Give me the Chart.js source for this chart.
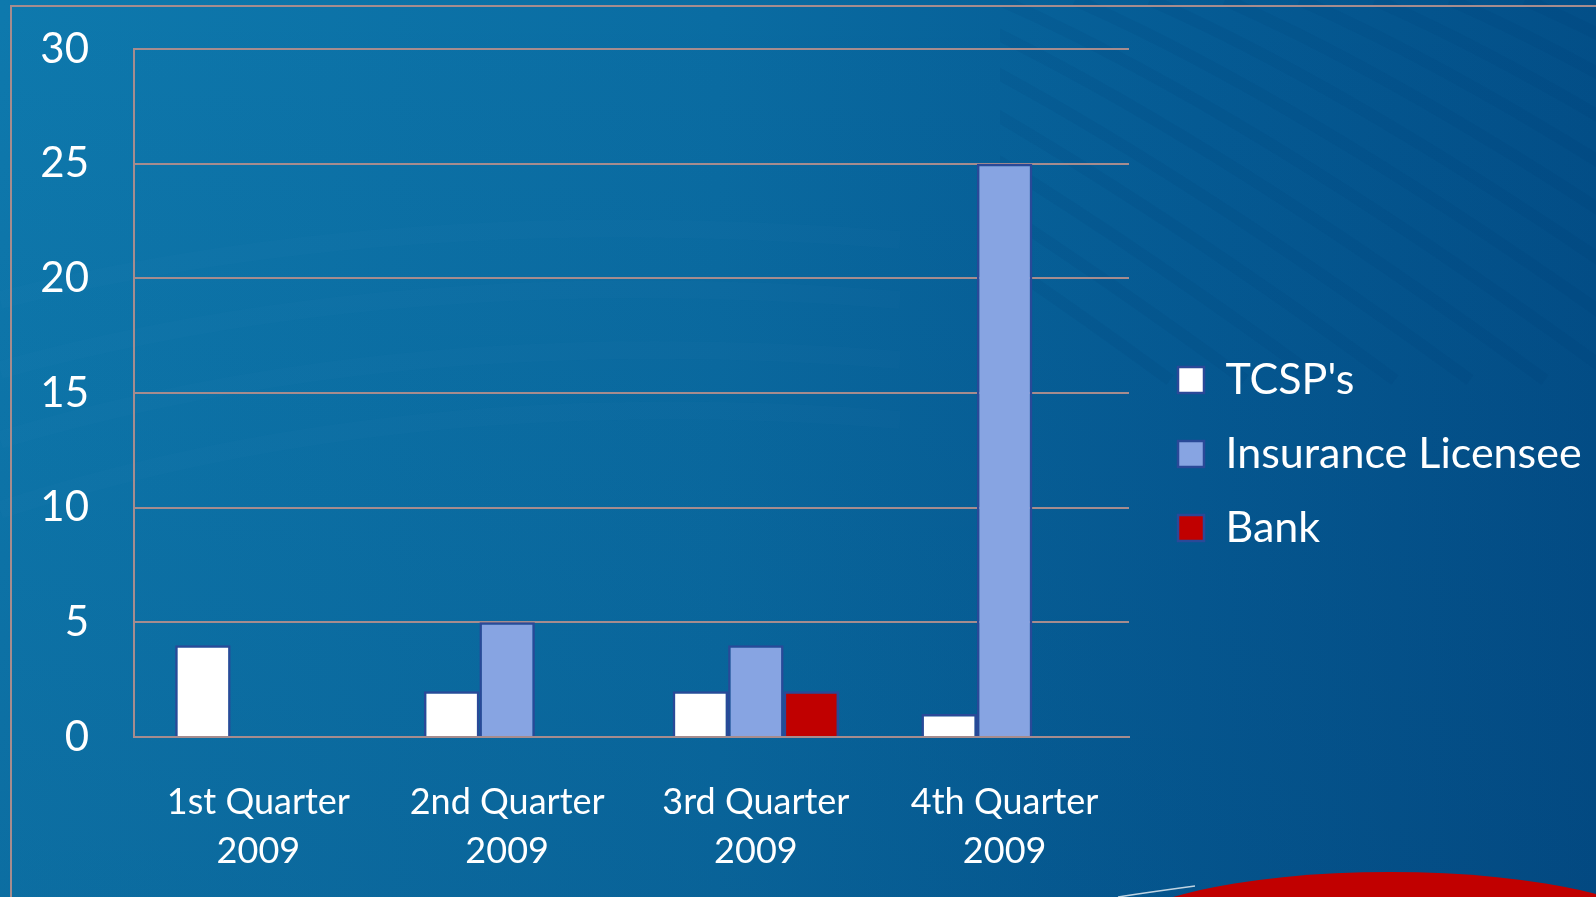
<!DOCTYPE html>
<html>
<head>
<meta charset="utf-8">
<script src="https://cdn.jsdelivr.net/npm/chart.js@4.4.1/dist/chart.umd.min.js"></script>
<style>
  html, body { margin: 0; padding: 0; overflow: hidden; background: #0a6aa0; }
  #wrap { width: 1596px; height: 897px; }
</style>
</head>
<body>
<div id="wrap"><canvas id="myChart" width="1596" height="897"></canvas></div>
<script>
// chart values
const quarters = [['1st Quarter', '2009'], ['2nd Quarter', '2009'], ['3rd Quarter', '2009'], ['4th Quarter', '2009']];
const tcsp = [4, 2, 2, 1];
const insurance = [null, 5, 4, 25];
const bank = [null, null, 2, null];
const yMax = 30;
const yStep = 5;

const W = 1596, H = 897;
const frameColor = '#a68c8e';

// slide background: blue gradient, faint swirls, red arc, thin frame
const slideBg = {
  id: 'slideBg',
  beforeDraw(chart) {
    const ctx = chart.ctx;
    ctx.save();
    let g = ctx.createLinearGradient(0, 0, W, 0);
    g.addColorStop(0, '#0e79ad');
    g.addColorStop(0.45, '#0a6ca2');
    g.addColorStop(0.75, '#055b94');
    g.addColorStop(1, '#034f88');
    ctx.fillStyle = g;
    ctx.fillRect(0, 0, W, H);
    let g2 = ctx.createLinearGradient(0, 0, 0, H);
    g2.addColorStop(0, 'rgba(0,30,80,0)');
    g2.addColorStop(1, 'rgba(0,30,80,0.12)');
    ctx.fillStyle = g2;
    ctx.fillRect(0, 0, W, H);

    // diagonal swirl bands on the right
    ctx.save();
    ctx.beginPath();
    ctx.rect(1000, 0, W - 1000, 700);
    ctx.clip();
    ctx.strokeStyle = 'rgba(0,50,115,0.09)';
    ctx.lineWidth = 12;
    for (let i = -8; i < 8; i++) {
      const x0 = 1150 + i * 75;
      ctx.beginPath();
      ctx.moveTo(x0, 0);
      ctx.quadraticCurveTo(x0 + 250, 110, x0 + 620, 380);
      ctx.stroke();
    }
    ctx.restore();
    // faint lighter arcs on the left
    ctx.strokeStyle = 'rgba(120,190,230,0.025)';
    ctx.lineWidth = 18;
    for (let i = 0; i < 4; i++) {
      ctx.beginPath();
      ctx.moveTo(0, 300 + i * 70);
      ctx.quadraticCurveTo(400, 200 + i * 60, 900, 240 + i * 60);
      ctx.stroke();
    }

    // red arc bottom right
    ctx.fillStyle = '#c10000';
    ctx.beginPath();
    ctx.ellipse(1390, 940, 280, 68, 0, 0, Math.PI * 2);
    ctx.fill();
    ctx.strokeStyle = 'rgba(255,255,255,0.75)';
    ctx.lineWidth = 1.5;
    ctx.beginPath();
    ctx.moveTo(1118, 897);
    ctx.quadraticCurveTo(1150, 892, 1195, 886);
    ctx.stroke();

    // frame
    ctx.strokeStyle = frameColor;
    ctx.lineWidth = 2;
    ctx.beginPath();
    ctx.moveTo(11, H);
    ctx.lineTo(11, 6);
    ctx.lineTo(W, 6);
    ctx.stroke();
    ctx.restore();
  }
};

// keep the legend column at a fixed width so the plot ends where it does in the picture
const legendFix = {
  id: 'legendFix',
  afterInit(chart) {
    const lg = chart.legend;
    const fit = lg.fit;
    lg.fit = function () { fit.call(this); this.width = W - 1129; };
  },
  afterLayout(chart) {
    const lg = chart.legend;
    lg.left += 18; lg.right += 18;
    lg.top -= 19; lg.bottom -= 19;
  }
};

const barBorder = '#2a4998';

function makeChart() {
  Chart.defaults.font.family = 'Lato';
  Chart.defaults.color = '#ffffff';
  const ctx = document.getElementById('myChart').getContext('2d');
  new Chart(ctx, {
    type: 'bar',
    data: {
      labels: quarters,
      datasets: [
        { label: "TCSP's", data: tcsp, backgroundColor: '#ffffff', borderColor: barBorder, borderWidth: 2.5 },
        { label: 'Insurance Licensee', data: insurance, backgroundColor: '#87a4e2', borderColor: barBorder, borderWidth: 2.5 },
        { label: 'Bank', data: bank, backgroundColor: '#c00000', borderColor: barBorder, borderWidth: 2.5 }
      ]
    },
    options: {
      responsive: false,
      animation: false,
      devicePixelRatio: 1,
      categoryPercentage: 0.669,
      barPercentage: 1,
      layout: { padding: { top: 49, left: 0, right: 0, bottom: 0 } },
      plugins: {
        tooltip: { enabled: false },
        legend: {
          position: 'right',
          labels: {
            color: '#ffffff',
            font: { size: 43 },
            boxWidth: 26,
            boxHeight: 26,
            padding: 31
          }
        }
      },
      scales: {
        x: {
          grid: { display: false },
          border: { display: true, color: frameColor, width: 2 },
          ticks: { color: '#ffffff', font: { size: 36, lineHeight: 1.36 }, padding: 33, maxRotation: 0 },
          afterFit(scale) { scale.height = H - 737; }
        },
        y: {
          min: 0,
          max: yMax,
          ticks: { stepSize: yStep, color: '#ffffff', font: { size: 42 }, padding: 45 },
          grid: { color: frameColor, lineWidth: 2, drawTicks: false },
          border: { display: true, color: frameColor, width: 2 },
          afterFit(scale) {
            scale.width = 134;
            scale.paddingTop = 0;
            scale.paddingBottom = 0;
          }
        }
      }
    },
    plugins: [slideBg, legendFix]
  });
}

document.fonts.load('40px Lato').then(makeChart, makeChart);
</script>
</body>
</html>
